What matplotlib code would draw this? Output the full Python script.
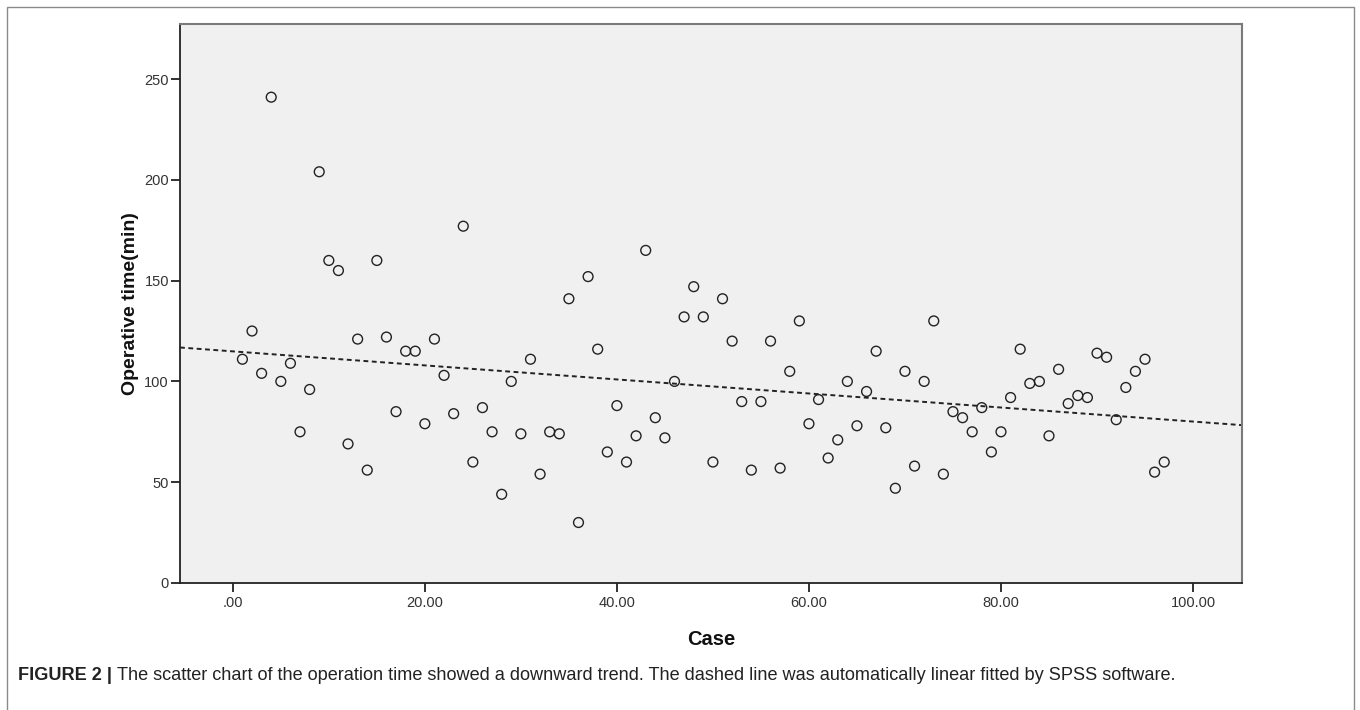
import matplotlib
matplotlib.use("Agg")
import matplotlib.pyplot as plt
from matplotlib.patches import Rectangle
import numpy as np

plt.rcParams['font.family'] = ['Liberation Sans', 'DejaVu Sans']

# ---- data ----
cases = list(range(1, 98))
operative_time = [
    111, 125, 104, 241, 100, 109, 75, 96, 204, 160,
    155, 69, 121, 56, 160, 122, 85, 115, 115, 79,
    121, 103, 84, 177, 60, 87, 75, 44, 100, 74,
    111, 54, 75, 74, 141, 30, 152, 116, 65, 88,
    60, 73, 165, 82, 72, 100, 132, 147, 132, 60,
    141, 120, 90, 56, 90, 120, 57, 105, 130, 79,
    91, 62, 71, 100, 78, 95, 115, 77, 47, 105,
    58, 100, 130, 54, 85, 82, 75, 87, 65, 75,
    92, 116, 99, 100, 73, 106, 89, 93, 92, 114,
    112, 81, 97, 105, 111, 55, 60,
]
x_ticks = [0, 20, 40, 60, 80, 100]
x_tick_labels = [".00", "20.00", "40.00", "60.00", "80.00", "100.00"]
y_ticks = [0, 50, 100, 150, 200, 250]
y_tick_labels = ["0", "50", "100", "150", "200", "250"]
x_label = "Case"
y_label = "Operative time(min)"
caption_bold = "FIGURE 2 |"
caption_text = ("The scatter chart of the operation time showed a downward trend. "
                "The dashed line was automatically linear fitted by SPSS software.")

W, H = 1360, 710
fig = plt.figure(figsize=(W / 100, H / 100), dpi=100)
fig.patch.set_facecolor("white")

# figure frame
fig.patches.append(Rectangle((7 / W, -0.01), (1354 - 7) / W, (H - 7) / H + 0.01,
                             transform=fig.transFigure, fill=False,
                             edgecolor="#8a8a8a", linewidth=1.0))

ax_l, ax_r, ax_t, ax_b = 180, 1242, 24, 583
ax = fig.add_axes([ax_l / W, 1 - ax_b / H, (ax_r - ax_l) / W, (ax_b - ax_t) / H])
ax.set_facecolor("#f0f0f0")

x = np.array(cases, dtype=float)
y = np.array(operative_time, dtype=float)

ax.scatter(x, y, s=50, facecolors="none", edgecolors="#222222", linewidths=1.0, zorder=3)

# linear fit (as SPSS does)
slope, intercept = np.polyfit(x, y, 1)
xl = np.array([-5.5, 105.1])
ax.plot(xl, slope * xl + intercept, color="#222222", linewidth=1.4,
        dashes=(2.5, 1.8), zorder=2)

ax.set_xlim(-5.5, 105.1)
ax.set_ylim(0, 277.3)

ax.set_xticks(x_ticks)
ax.set_xticklabels(x_tick_labels)
ax.set_yticks(y_ticks)
ax.set_yticklabels(y_tick_labels)
ax.tick_params(axis="both", direction="out", length=6.5, width=1.3,
               color="#222222", labelsize=10.5, labelcolor="#333333")
ax.tick_params(axis="x", pad=3)
ax.tick_params(axis="y", pad=1.5)

for side in ["left", "bottom"]:
    ax.spines[side].set_color("#222222")
    ax.spines[side].set_linewidth(1.3)
for side in ["top", "right"]:
    ax.spines[side].set_color("#7a7a7a")
    ax.spines[side].set_linewidth(1.5)

ax.set_xlabel(x_label, fontsize=14.5, fontweight="bold", labelpad=14, color="#111111")
ax.set_ylabel(y_label, fontsize=14, fontweight="bold", labelpad=4, color="#111111")

# caption
t1 = fig.text(18 / W, 1 - 675 / H, caption_bold, fontsize=13.1, fontweight="bold",
              va="center", ha="left", color="#222222")
fig.canvas.draw()
bb = t1.get_window_extent()
fig.text((bb.x1 + 5) / W, 1 - 675 / H, caption_text, fontsize=13.1,
         va="center", ha="left", color="#222222")

fig.savefig("out.png", dpi=100, facecolor="white")
